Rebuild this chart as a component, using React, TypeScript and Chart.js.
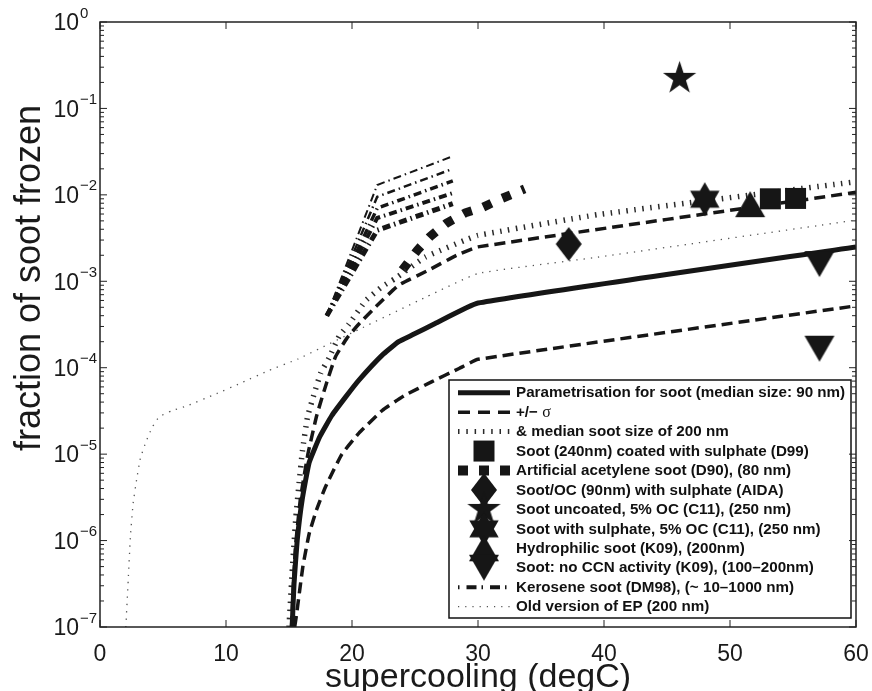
import React, { useEffect, useRef } from "react";
import { Chart, registerables } from "chart.js";

Chart.register(...registerables);

// ---------- tick labels ----------
const xTickValues = [0, 10, 20, 30, 40, 50, 60];
const yDecadeExponents = [-7, -6, -5, -4, -3, -2, -1, 0];

// ---------- parametrisation (median size 90 nm) ----------
const paramX = [15.25, 15.4, 15.65, 16.05, 16.6, 17.45, 18.4, 19.5, 20.55, 22.4, 23.7, 24.8, 26.6, 30, 60];
const paramY = [1e-7, 3.2e-7, 1.0e-6, 3.0e-6, 8e-6, 1.6e-5, 2.8e-5, 4.6e-5, 7.2e-5, 1.4e-4, 2.0e-4, 2.4e-4, 3.25e-4, 5.6e-4, 2.5e-3];

// ---------- +/- sigma ----------
const sigmaUpX = [15.2, 15.5, 15.9, 16.5, 17.2, 18.0, 18.7, 19.6, 20.55, 21.9, 23.7, 26.1, 28.3, 30, 60];
const sigmaUpY = [1e-7, 8e-7, 3e-6, 1e-5, 2.8e-5, 6.8e-5, 1.35e-4, 2.2e-4, 3.2e-4, 5.1e-4, 9e-4, 1.35e-3, 2.0e-3, 2.5e-3, 1.07e-2];
const sigmaLowX = [15.45, 15.6, 16.1, 16.6, 17.2, 17.9, 19.2, 20.55, 22.4, 24.2, 26.35, 28.5, 30, 60];
const sigmaLowY = [1e-7, 1.4e-7, 5e-7, 1.2e-6, 2.3e-6, 4.2e-6, 1.0e-5, 1.75e-5, 3.2e-5, 4.8e-5, 6.9e-5, 9.8e-5, 1.25e-4, 5.2e-4];

// ---------- median soot size 200 nm ----------
const size200X = [15.0, 15.28, 15.55, 15.8, 16.07, 16.47, 17.0, 17.52, 18.18, 18.97, 19.76, 21.1, 22.4, 23.4, 25.8, 29.0, 30, 39.5, 60];
const size200Y = [1e-7, 5e-7, 1.9e-6, 4.6e-6, 1.1e-5, 2.7e-5, 5e-5, 8.7e-5, 1.3e-4, 2.3e-4, 3.2e-4, 6e-4, 8.7e-4, 1.07e-3, 1.9e-3, 3.0e-3, 3.4e-3, 5.9e-3, 1.42e-2];

// ---------- old version of EP (200 nm) ----------
const oldEpX = [2.05, 2.24, 2.42, 2.63, 2.9, 3.2, 3.64, 4.14, 4.69, 5.66, 6.85, 9.1, 11.33, 13.4, 15.7, 20.5, 25.9, 30, 39.5, 60];
const oldEpY = [1e-7, 3.5e-7, 1.15e-6, 2.7e-6, 5.0e-6, 8.9e-6, 1.38e-5, 2.04e-5, 2.7e-5, 3.16e-5, 3.6e-5, 4.9e-5, 6.8e-5, 9.3e-5, 1.26e-4, 2.75e-4, 6.6e-4, 1.23e-3, 1.9e-3, 5.1e-3];

// ---------- artificial acetylene soot (D90) ----------
const acetyleneX = [24.0, 25.2, 26.2, 27.5, 29.0, 30.4, 31.9, 33.7];
const acetyleneY = [1.35e-3, 2.3e-3, 3.3e-3, 4.7e-3, 6.2e-3, 7.2e-3, 9.1e-3, 1.17e-2];

// ---------- kerosene soot (DM98) ----------
const keroseneX = [18.0, 22.0, 28.0];
const kerosene1Y = [4e-4, 1.3e-2, 2.8e-2];
const kerosene2Y = [4e-4, 9.5e-3, 2.0e-2];
const kerosene3Y = [4e-4, 7.0e-3, 1.45e-2];
const kerosene4Y = [4e-4, 5.4e-3, 1.05e-2];
const kerosene5Y = [4e-4, 3.9e-3, 7.9e-3];

// ---------- measurements ----------
const d99X = [53.2, 55.2];
const d99Y = [9.0e-3, 9.1e-3];
const aidaX = [37.2];
const aidaY = [2.7e-3];
const c11UncoatedX = [46.0];
const c11UncoatedY = [0.223];
const c11SulphateX = [48.0];
const c11SulphateY = [8.9e-3];
const k09HydrophilicX = [51.6];
const k09HydrophilicY = [7.8e-3];
const k09NoCcnX = [57.1, 57.1];
const k09NoCcnY = [1.58e-3, 1.66e-4];

const legendLabels = [
  "Parametrisation for soot (median size: 90 nm)",
  "+/\u2212 ",
  "& median soot size of 200 nm",
  "Soot (240nm) coated with sulphate (D99)",
  "Artificial acetylene soot (D90), (80 nm)",
  "Soot/OC (90nm) with sulphate (AIDA)",
  "Soot uncoated, 5% OC (C11), (250 nm)",
  "Soot with sulphate, 5% OC (C11), (250 nm)",
  "Hydrophilic soot (K09), (200nm)",
  "Soot: no CCN activity (K09), (100\u2013200nm)",
  "Kerosene soot (DM98), (~ 10\u20131000 nm)",
  "Old version of EP (200 nm)",
];

const INK = "#161616";
const FONT = '"Liberation Sans", Arial, Helvetica, sans-serif';

type Pt = { x: number; y: number };
const pts = (xs: number[], ys: number[]): Pt[] => xs.map((x, i) => ({ x, y: ys[i] }));

function makeMarker(kind: string): HTMLCanvasElement {
  const path: [number, number][] = [];
  let w = 0;
  let h = 0;
  if (kind === "square") {
    w = 21; h = 21;
    path.push([-10.5, -10.5], [10.5, -10.5], [10.5, 10.5], [-10.5, 10.5]);
  } else if (kind === "diamond") {
    w = 26; h = 34;
    path.push([0, -17], [13, 0], [0, 17], [-13, 0]);
  } else if (kind === "pentagram") {
    const R = 17.5, r = R * 0.382;
    for (let k = 0; k < 10; k++) {
      const a = -Math.PI / 2 + (k * Math.PI) / 5;
      const rr = k % 2 ? r : R;
      path.push([rr * Math.cos(a), rr * Math.sin(a)]);
    }
    w = 2 * R; h = 2 * R;
  } else if (kind === "hexagram") {
    const R = 17, r = R / Math.sqrt(3);
    for (let k = 0; k < 12; k++) {
      const a = -Math.PI / 2 + (k * Math.PI) / 6;
      const rr = k % 2 ? r : R;
      path.push([rr * Math.cos(a), rr * Math.sin(a)]);
    }
    w = 2 * R; h = 2 * R;
  } else if (kind === "triUp") {
    w = 30; h = 26;
    path.push([0, -13], [15, 13], [-15, 13]);
  } else if (kind === "triDown") {
    w = 30; h = 26;
    path.push([-15, -13], [15, -13], [0, 13]);
  }
  const c = document.createElement("canvas");
  c.width = Math.ceil(w) + 2;
  c.height = Math.ceil(h) + 2;
  const ctx = c.getContext("2d")!;
  ctx.translate(c.width / 2, c.height / 2);
  ctx.beginPath();
  path.forEach(([px, py], i) => (i ? ctx.lineTo(px, py) : ctx.moveTo(px, py)));
  ctx.closePath();
  ctx.fillStyle = INK;
  ctx.fill();
  return c;
}

type LineStyle = { width: number; dash: number[]; color: string };
const styleSolid: LineStyle = { width: 5, dash: [], color: INK };
const styleSigma: LineStyle = { width: 3.5, dash: [11, 6], color: INK };
const style200: LineStyle = { width: 5.5, dash: [1.5, 6.5], color: "#2a2a2a" };
const styleAcet: LineStyle = { width: 9, dash: [9, 12], color: INK };
const styleOld: LineStyle = { width: 1.3, dash: [1.3, 6], color: "#555555" };

export default function App() {
  const ref = useRef<HTMLCanvasElement | null>(null);

  useEffect(() => {
    if (!ref.current) return;
    const mk = {
      square: makeMarker("square"),
      diamond: makeMarker("diamond"),
      pentagram: makeMarker("pentagram"),
      hexagram: makeMarker("hexagram"),
      triUp: makeMarker("triUp"),
      triDown: makeMarker("triDown"),
    };

    const lineDs = (label: string, xs: number[], ys: number[], st: LineStyle, tension: number) => ({
      label,
      data: pts(xs, ys),
      showLine: true,
      borderColor: st.color,
      borderWidth: st.width,
      borderDash: st.dash,
      borderCapStyle: "butt",
      pointRadius: 0,
      pointHoverRadius: 0,
      tension,
      fill: false,
    });
    const markerDs = (label: string, xs: number[], ys: number[], c: HTMLCanvasElement) => ({
      label,
      data: pts(xs, ys),
      showLine: false,
      pointStyle: c,
      pointRadius: 15,
      pointHoverRadius: 15,
    });

    const keroStyle = (w: number): LineStyle => ({ width: w, dash: [8, 4, 1.5, 4], color: INK });

    const datasets: any[] = [
      markerDs(legendLabels[6], c11UncoatedX, c11UncoatedY, mk.pentagram),
      markerDs(legendLabels[3], d99X, d99Y, mk.square),
      markerDs(legendLabels[5], aidaX, aidaY, mk.diamond),
      markerDs(legendLabels[7], c11SulphateX, c11SulphateY, mk.hexagram),
      markerDs(legendLabels[8], k09HydrophilicX, k09HydrophilicY, mk.triUp),
      markerDs(legendLabels[9], k09NoCcnX, k09NoCcnY, mk.triDown),
      lineDs(legendLabels[0], paramX, paramY, styleSolid, 0.12),
      lineDs(legendLabels[1], sigmaUpX, sigmaUpY, styleSigma, 0.12),
      lineDs(legendLabels[1], sigmaLowX, sigmaLowY, styleSigma, 0.12),
      lineDs(legendLabels[2], size200X, size200Y, style200, 0.12),
      lineDs(legendLabels[4], acetyleneX, acetyleneY, styleAcet, 0),
      lineDs(legendLabels[10], keroseneX, kerosene1Y, keroStyle(2), 0),
      lineDs(legendLabels[10], keroseneX, kerosene2Y, keroStyle(2.5), 0),
      lineDs(legendLabels[10], keroseneX, kerosene3Y, keroStyle(3.5), 0),
      lineDs(legendLabels[10], keroseneX, kerosene4Y, keroStyle(4), 0),
      lineDs(legendLabels[10], keroseneX, kerosene5Y, keroStyle(5), 0),
      lineDs(legendLabels[11], oldEpX, oldEpY, styleOld, 0.12),
    ];

    const framePlugin = {
      id: "frame",
      afterDraw(chart: any) {
        const { ctx, chartArea: a, scales } = chart;
        const xs = scales.x;
        const ys = scales.y;
        ctx.save();
        ctx.strokeStyle = "#222";
        ctx.setLineDash([]);
        ctx.lineWidth = 1.5;
        ctx.strokeRect(a.left, a.top, a.right - a.left, a.bottom - a.top);
        ctx.lineWidth = 1;
        const seg = (x1: number, y1: number, x2: number, y2: number) => {
          ctx.beginPath();
          ctx.moveTo(x1, y1);
          ctx.lineTo(x2, y2);
          ctx.stroke();
        };
        xTickValues.forEach((v) => {
          const px = xs.getPixelForValue(v);
          seg(px, a.bottom, px, a.bottom - 7);
          seg(px, a.top, px, a.top + 7);
        });
        yDecadeExponents.forEach((e) => {
          const py = ys.getPixelForValue(Math.pow(10, e));
          seg(a.left, py, a.left + 7, py);
          seg(a.right, py, a.right - 7, py);
          if (e < 0) {
            for (let k = 2; k <= 9; k++) {
              const pm = ys.getPixelForValue(k * Math.pow(10, e));
              seg(a.left, pm, a.left + 4, pm);
              seg(a.right, pm, a.right - 4, pm);
            }
          }
        });
        // y tick labels 10^n
        ctx.fillStyle = "#1a1a1a";
        yDecadeExponents.forEach((e) => {
          const py = ys.getPixelForValue(Math.pow(10, e));
          ctx.font = `23px ${FONT}`;
          ctx.textAlign = "right";
          ctx.textBaseline = "alphabetic";
          ctx.fillText("10", 79, py + 8.3);
          ctx.font = `15px ${FONT}`;
          ctx.textAlign = "left";
          ctx.fillText(e < 0 ? "\u2212" + Math.abs(e) : String(e), 80, py - 4.5);
        });
        // axis titles
        ctx.font = `34px ${FONT}`;
        ctx.textAlign = "center";
        ctx.textBaseline = "alphabetic";
        ctx.fillText("supercooling (degC)", (a.left + a.right) / 2, 687);
        ctx.save();
        ctx.font = `36px ${FONT}`;
        ctx.translate(40, 278);
        ctx.rotate(-Math.PI / 2);
        ctx.fillText("fraction of soot frozen", 0, 0);
        ctx.restore();
        ctx.restore();
      },
    };

    const L = { left: 449, top: 380, right: 851, bottom: 618, row0: 392.7, step: 19.45, sl: 458, sr: 510, sc: 484, tx: 516 };
    const legendPlugin = {
      id: "boxLegend",
      afterDatasetsDraw(chart: any) {
        const ctx: CanvasRenderingContext2D = chart.ctx;
        ctx.save();
        ctx.fillStyle = "#fff";
        ctx.fillRect(L.left, L.top, L.right - L.left, L.bottom - L.top);
        ctx.strokeStyle = "#111";
        ctx.lineWidth = 1.5;
        ctx.setLineDash([]);
        ctx.strokeRect(L.left, L.top, L.right - L.left, L.bottom - L.top);
        const line = (yy: number, st: LineStyle) => {
          ctx.save();
          ctx.strokeStyle = st.color;
          ctx.lineWidth = st.width;
          ctx.setLineDash(st.dash);
          ctx.lineCap = "butt";
          ctx.beginPath();
          ctx.moveTo(L.sl, yy);
          ctx.lineTo(L.sr, yy);
          ctx.stroke();
          ctx.restore();
        };
        const mark = (yy: number, c: HTMLCanvasElement) => {
          ctx.drawImage(c, L.sc - c.width / 2, yy - c.height / 2);
        };
        const rowY = (i: number) => L.row0 + i * L.step;
        line(rowY(0), styleSolid);
        line(rowY(1), { width: 3.5, dash: [12, 8], color: INK });
        line(rowY(2), { width: 5, dash: [1.5, 6.8], color: "#2a2a2a" });
        mark(rowY(3), mk.square);
        line(rowY(4), { width: 10, dash: [10, 11], color: INK });
        mark(rowY(5), mk.diamond);
        mark(rowY(6), mk.pentagram);
        mark(rowY(7), mk.hexagram);
        mark(rowY(8), mk.triUp);
        mark(rowY(9), mk.triDown);
        line(rowY(10), { width: 4, dash: [1.5, 7, 10, 5], color: INK });
        line(rowY(11), { width: 1.2, dash: [1.2, 6], color: "#555" });
        ctx.fillStyle = "#111";
        ctx.textAlign = "left";
        ctx.textBaseline = "middle";
        legendLabels.forEach((t, i) => {
          ctx.font = `bold 15.2px ${FONT}`;
          ctx.fillText(t, L.tx, rowY(i) + 0.5);
          if (i === 1) {
            const wdt = ctx.measureText(t).width;
            ctx.font = `16px "Liberation Serif", "Times New Roman", serif`;
            ctx.fillText("\u03c3", L.tx + wdt, rowY(i) + 0.5);
          }
        });
        ctx.restore();
      },
    };

    const chart = new Chart(ref.current, {
      type: "scatter",
      data: { datasets },
      options: {
        animation: false,
        responsive: false,
        maintainAspectRatio: false,
        events: [],
        layout: { padding: { top: 22, right: 12, left: 0, bottom: 0 } },
        plugins: { legend: { display: false }, tooltip: { enabled: false } },
        scales: {
          x: {
            type: "linear",
            min: 0,
            max: 60,
            afterBuildTicks: (s: any) => {
              s.ticks = xTickValues.map((v) => ({ value: v }));
            },
            afterFit: (s: any) => {
              s.height = 64;
              s.paddingLeft = 0;
              s.paddingRight = 0;
            },
            grid: { display: false, drawTicks: false },
            border: { display: false },
            ticks: {
              font: { family: FONT, size: 23 },
              color: "#1a1a1a",
              padding: 14,
              maxRotation: 0,
              autoSkip: false,
            },
          },
          y: {
            type: "logarithmic",
            min: 1e-7,
            max: 1,
            afterFit: (s: any) => {
              s.width = 100;
              s.paddingTop = 0;
              s.paddingBottom = 0;
            },
            grid: { display: false, drawTicks: false },
            border: { display: false },
            ticks: { display: false },
          },
        },
      } as any,
      plugins: [legendPlugin, framePlugin],
    });
    return () => chart.destroy();
  }, []);

  return (
    <div style={{ position: "fixed", left: 0, top: 0, width: 872, height: 691, background: "#fff" }}>
      <canvas ref={ref} width={872} height={691} style={{ display: "block" }} />
    </div>
  );
}
